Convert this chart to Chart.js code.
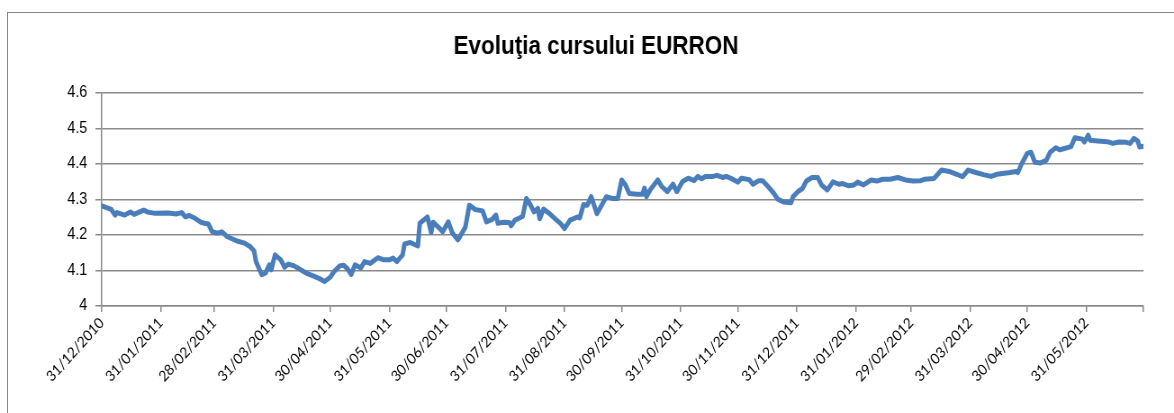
<!DOCTYPE html>
<html>
<head>
<meta charset="utf-8">
<script src="https://cdn.jsdelivr.net/npm/chart.js@4.4.1/dist/chart.umd.min.js"></script>
<style>
  html, body { margin: 0; padding: 0; background: #fff; overflow: hidden; }
  #frame { position: absolute; left: 7px; top: 12px; width: 1300px; height: 600px;
           border-left: 1px solid #868686; border-top: 1px solid #868686; }
  /* the original picture is squeezed sideways, so the canvas is drawn wider and scaled down */
  #eurronChart { position: absolute; left: 0; top: 0; }
</style>
</head>
<body>
<div id="frame"></div>
<canvas id="eurronChart" width="1304" height="413" style="width:1174px;height:413px"></canvas>
<script>
// days counted from 31/12/2010
const dayOffsets = [
  0, 5, 7, 8, 12, 15, 17, 22, 24, 28, 35, 39, 42, 44, 46, 49, 52, 54, 56, 58,
  61, 63, 66, 69, 71, 75, 78, 80, 81, 84, 86, 88, 89, 91, 94, 96, 98, 101, 106, 108,
  111, 114, 117, 120, 122, 125, 127, 129, 131, 133, 136, 138, 141, 145, 148, 151, 153, 155, 158, 159,
  162, 166, 167, 171, 173, 174, 177, 179, 182, 184, 187, 188, 191, 193, 196, 200, 202, 205, 207, 208,
  211, 214, 215, 217, 221, 223, 225, 227, 229, 230, 232, 235, 238, 241, 243, 246, 250, 251, 253, 255,
  257, 260, 262, 265, 268, 271, 273, 275, 277, 281, 284, 285, 286, 288, 292, 294, 297, 300, 302, 305,
  308, 311, 313, 315, 317, 321, 323, 326, 328, 331, 334, 336, 340, 342, 345, 347, 350, 353, 355, 358,
  362, 363, 366, 368, 370, 373, 376, 378, 381, 384, 387, 389, 392, 395, 397, 400, 404, 407, 410, 414,
  418, 422, 426, 430, 432, 437, 439, 441, 445, 449, 452, 455, 459, 463, 467, 470, 473, 477, 480, 481,
  483, 486, 488, 490, 493, 496, 498, 501, 503, 505, 509, 511, 515, 516, 518, 519, 523, 528, 531, 534,
  538, 540, 542, 544, 545, 547
];
const eurRon = [
  4.282, 4.272, 4.256, 4.263, 4.256, 4.265, 4.258, 4.270, 4.265, 4.261, 4.262, 4.259, 4.263, 4.251, 4.255, 4.247, 4.236, 4.233, 4.231, 4.209,
  4.205, 4.209, 4.195, 4.188, 4.183, 4.177, 4.167, 4.155, 4.125, 4.088, 4.093, 4.116, 4.102, 4.144, 4.130, 4.109, 4.118, 4.113, 4.097, 4.091,
  4.085, 4.078, 4.069, 4.081, 4.097, 4.113, 4.115, 4.105, 4.089, 4.116, 4.107, 4.125, 4.120, 4.136, 4.130, 4.130, 4.135, 4.125, 4.144, 4.175,
  4.179, 4.169, 4.233, 4.251, 4.207, 4.236, 4.221, 4.209, 4.237, 4.207, 4.186, 4.195, 4.223, 4.284, 4.272, 4.268, 4.237, 4.244, 4.256, 4.233,
  4.236, 4.235, 4.226, 4.242, 4.252, 4.303, 4.286, 4.265, 4.275, 4.246, 4.273, 4.261, 4.246, 4.232, 4.218, 4.242, 4.251, 4.248, 4.286, 4.284,
  4.308, 4.260, 4.279, 4.308, 4.303, 4.303, 4.355, 4.341, 4.317, 4.315, 4.315, 4.332, 4.308, 4.327, 4.355, 4.337, 4.322, 4.343, 4.322, 4.351,
  4.360, 4.353, 4.365, 4.358, 4.365, 4.365, 4.368, 4.362, 4.365, 4.358, 4.349, 4.360, 4.356, 4.343, 4.353, 4.353, 4.336, 4.317, 4.301, 4.293,
  4.291, 4.308, 4.324, 4.331, 4.352, 4.362, 4.362, 4.341, 4.327, 4.350, 4.343, 4.345, 4.339, 4.341, 4.349, 4.341, 4.355, 4.352, 4.357, 4.357,
  4.362, 4.355, 4.352, 4.353, 4.357, 4.359, 4.371, 4.383, 4.379, 4.371, 4.364, 4.383, 4.376, 4.370, 4.365, 4.371, 4.373, 4.376, 4.379, 4.376,
  4.400, 4.430, 4.433, 4.405, 4.403, 4.410, 4.433, 4.446, 4.440, 4.443, 4.449, 4.474, 4.470, 4.462, 4.481, 4.467, 4.465, 4.463, 4.458, 4.462,
  4.461, 4.458, 4.472, 4.465, 4.448, 4.450
];

// month-end ticks on the date axis
const tickDays = [0, 31, 59, 90, 120, 151, 181, 212, 243, 273, 304, 334, 365, 396, 425, 456, 486, 517, 547];
const tickLabels = ['31/12/2010', '31/01/2011', '28/02/2011', '31/03/2011', '30/04/2011', '31/05/2011',
  '30/06/2011', '31/07/2011', '31/08/2011', '30/09/2011', '31/10/2011', '30/11/2011', '31/12/2011',
  '31/01/2012', '29/02/2012', '31/03/2012', '30/04/2012', '31/05/2012', ''];
const yTickValues = [4, 4.1, 4.2, 4.3, 4.4, 4.5, 4.6];
const yTickLabels = ['4', '4.1', '4.2', '4.3', '4.4', '4.5', '4.6'];

const points = dayOffsets.map((d, i) => ({ x: d, y: eurRon[i] }));
const gridGrey = '#8a8a8a';

const ctx = document.getElementById('eurronChart').getContext('2d');
new Chart(ctx, {
  type: 'line',
  data: {
    datasets: [{
      label: 'EURRON',
      data: points,
      borderColor: '#4A7EBB',
      borderWidth: 5,
      pointRadius: 0,
      tension: 0,
      borderJoinStyle: 'round',
      borderCapStyle: 'round',
      fill: false
    }]
  },
  options: {
    responsive: false,
    animation: false,
    layout: { padding: { left: 54, right: 34, top: 0, bottom: 0 } },
    plugins: {
      legend: { display: false },
      tooltip: { enabled: false },
      title: {
        display: true,
        text: 'Evoluţia cursului EURRON',
        color: '#000',
        font: { family: "'Liberation Sans', Arial, sans-serif", size: 25, weight: 'bold' },
        padding: { top: 32, bottom: 31 }
      }
    },
    scales: {
      x: {
        type: 'linear',
        min: 0,
        max: 547,
        afterBuildTicks: scale => { scale.ticks = tickDays.map(v => ({ value: v })); },
        afterFit: scale => { scale.height = 107; },
        grid: { drawOnChartArea: false, drawTicks: true, tickLength: 6, color: gridGrey, lineWidth: 1.5 },
        border: { display: true, color: gridGrey, width: 1.5 },
        ticks: {
          autoSkip: false,
          maxRotation: 45,
          minRotation: 45,
          padding: 2,
          color: '#000',
          font: { family: "Lato, 'Open Sans', sans-serif", size: 15 },
          callback: (v, i) => tickLabels[i]
        }
      },
      y: {
        min: 4,
        max: 4.6,
        afterBuildTicks: scale => { scale.ticks = yTickValues.map(v => ({ value: v })); },
        afterFit: scale => { scale.width = 59; },
        grid: { drawOnChartArea: true, drawTicks: true, tickLength: 7, color: gridGrey, lineWidth: 1.5 },
        border: { display: true, color: gridGrey, width: 1.5 },
        ticks: {
          padding: 9,
          color: '#000',
          font: { family: "'Liberation Sans', Arial, sans-serif", size: 16 },
          callback: (v, i) => yTickLabels[i]
        }
      }
    }
  }
});
</script>
</body>
</html>
